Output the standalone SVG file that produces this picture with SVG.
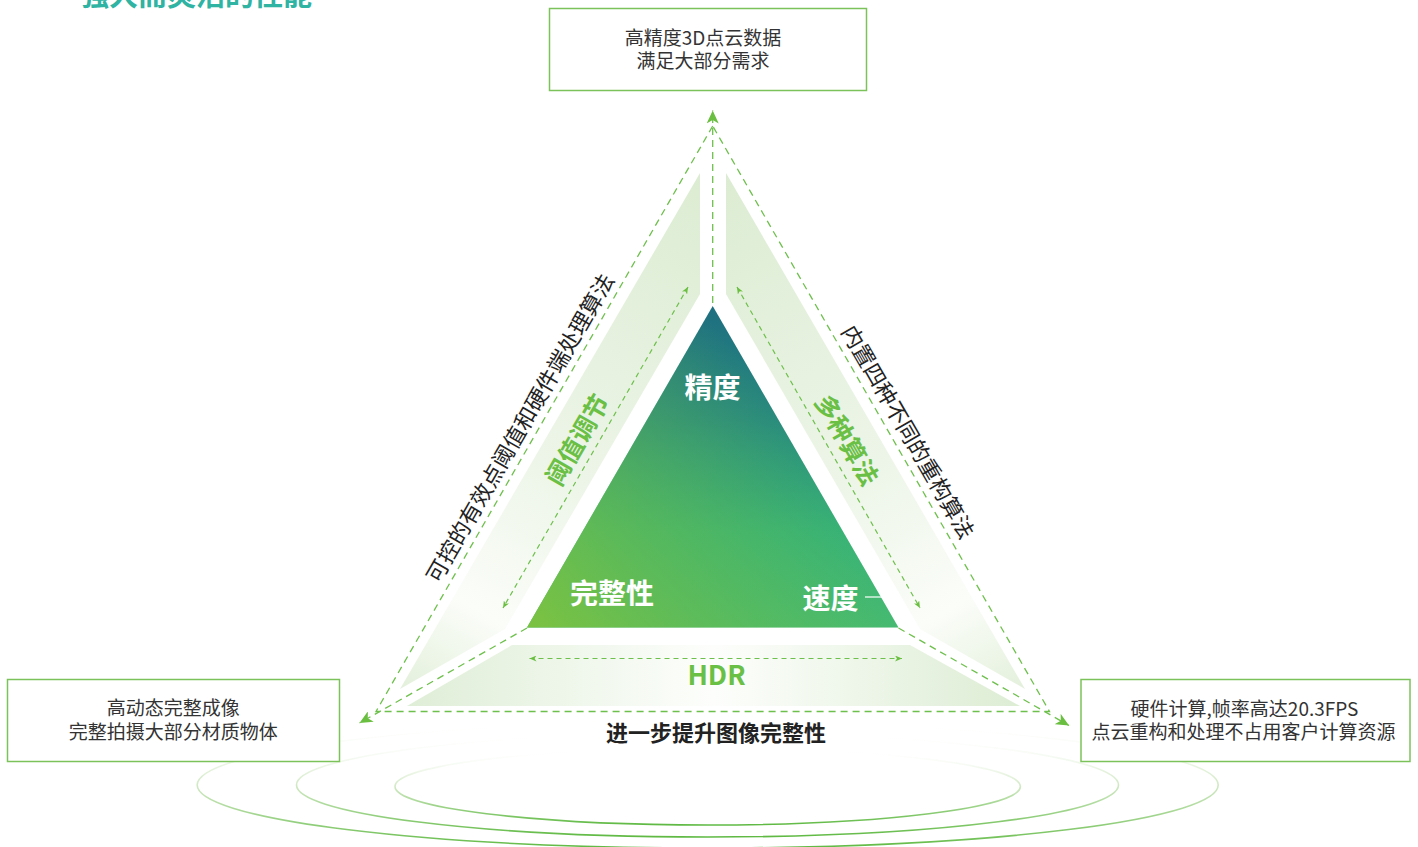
<svg xmlns="http://www.w3.org/2000/svg" width="1418" height="847" viewBox="0 0 1418 847">
<style>
.cjk{font-family:"Noto Sans CJK SC","Noto Sans",sans-serif}
.box{fill:#ffffff;stroke:#7cc25a;stroke-width:1.5}
.boxtxt{font-size:19px;fill:#333333;text-anchor:middle}
.dash{fill:none;stroke:#6ec04c;stroke-width:1.3;stroke-dasharray:7 5}
.dash2{fill:none;stroke:#6ec04c;stroke-width:1.2;stroke-dasharray:5 4}
.core{font-size:28px;font-weight:700;fill:#ffffff;text-anchor:middle}
.green{font-size:25px;font-weight:700;fill:#6abf45;text-anchor:middle}
.side{font-size:22px;fill:#222222;text-anchor:middle}
.ring{fill:none;stroke:url(#ringG);stroke-width:1.6}
</style>
<defs>
<marker id="bigArrow" markerUnits="userSpaceOnUse" markerWidth="14" markerHeight="12" viewBox="0 0 14 12" refX="13" refY="6" orient="auto">
<path d="M0,0 L13,6 L0,12 L3.5,6 Z" fill="#6abf40"/>
</marker>
<marker id="smallArrow" markerUnits="userSpaceOnUse" markerWidth="8" markerHeight="6" viewBox="0 0 8 6" refX="7" refY="3" orient="auto-start-reverse">
<path d="M0,0 L7,3 L0,6 L2,3 Z" fill="#6abf40"/>
</marker>
<linearGradient id="coreBase" gradientUnits="userSpaceOnUse" x1="712" y1="306" x2="712" y2="628">
<stop offset="0" stop-color="#1e6e80"/>
<stop offset="0.35" stop-color="#288a7e"/>
<stop offset="0.7" stop-color="#34b17a"/>
<stop offset="1" stop-color="#40b978"/>
</linearGradient>
<linearGradient id="coreLime" gradientUnits="userSpaceOnUse" x1="530" y1="628" x2="790" y2="420">
<stop offset="0" stop-color="#7cc241" stop-opacity="1"/>
<stop offset="0.4" stop-color="#72be45" stop-opacity="0.6"/>
<stop offset="1" stop-color="#6abf45" stop-opacity="0"/>
</linearGradient>
<linearGradient id="bandL" gradientUnits="userSpaceOnUse" x1="700" y1="173" x2="400" y2="689">
<stop offset="0" stop-color="#dcecd2"/>
<stop offset="0.55" stop-color="#edf5e8"/>
<stop offset="0.82" stop-color="#fbfdf9"/>
<stop offset="1" stop-color="#e3f0db"/>
</linearGradient>
<linearGradient id="bandR" gradientUnits="userSpaceOnUse" x1="726" y1="173" x2="1026" y2="689">
<stop offset="0" stop-color="#dcecd2"/>
<stop offset="0.55" stop-color="#edf5e8"/>
<stop offset="0.82" stop-color="#fbfdf9"/>
<stop offset="1" stop-color="#e3f0db"/>
</linearGradient>
<linearGradient id="bandB" gradientUnits="userSpaceOnUse" x1="407" y1="0" x2="1020" y2="0">
<stop offset="0" stop-color="#dfeed7"/>
<stop offset="0.5" stop-color="#fdfefc"/>
<stop offset="1" stop-color="#ddedd4"/>
</linearGradient>
<linearGradient id="ringG" x1="0" y1="0" x2="0" y2="1">
<stop offset="0" stop-color="#ffffff" stop-opacity="0"/>
<stop offset="0.45" stop-color="#bfe0ac" stop-opacity="0.6"/>
<stop offset="1" stop-color="#5eb942"/>
</linearGradient>
</defs>
<rect width="1418" height="847" fill="#ffffff"/>

<g id="title">
<text class="cjk" x="80" y="6" font-size="29" font-weight="700" fill="#2fb3a2">强大而灵活的性能</text>
</g>

<g id="rings">
<ellipse class="ring" cx="707.7" cy="785" rx="510.5" ry="63"/>
<ellipse class="ring" cx="707.5" cy="785" rx="411" ry="52"/>
<ellipse class="ring" cx="707.7" cy="786.5" rx="312.7" ry="38.5"/>
</g>

<g id="bands">
<polygon points="700,173 700,294 505,629 400,689" fill="url(#bandL)"/>
<polygon points="726,173 726,294 920,629 1025,689" fill="url(#bandR)"/>
<polygon points="512,645 910,645 1020,706 407,706" fill="url(#bandB)"/>
</g>

<g id="core">
<polygon points="712.7,306 527,627.5 898.5,627.5" fill="url(#coreBase)"/>
<polygon points="712.7,306 527,627.5 898.5,627.5" fill="url(#coreLime)"/>
<text class="cjk core" x="712.5" y="398">精度</text>
<text class="cjk core" x="612" y="604">完整性</text>
<text class="cjk core" x="830.5" y="609">速度</text>
<line x1="865" y1="597" x2="882" y2="597" stroke="#ffffff" stroke-width="1.2"/>
</g>

<g id="connectors">
<path class="dash" d="M712.7,126 L376,711.5 L1049.5,711.5 Z"/>
<path class="dash" d="M712.7,303 L712.7,110.5" marker-end="url(#bigArrow)"/>
<path class="dash" d="M527,628 L359.5,723" marker-end="url(#bigArrow)"/>
<path class="dash" d="M898.5,628 L1069,725.5" marker-end="url(#bigArrow)"/>
<path class="dash2" d="M688,287 L503,608" marker-start="url(#smallArrow)" marker-end="url(#smallArrow)"/>
<path class="dash2" d="M737,287 L920,608" marker-start="url(#smallArrow)" marker-end="url(#smallArrow)"/>
<path class="dash2" d="M529.5,658.5 L902,658.5" marker-start="url(#smallArrow)" marker-end="url(#smallArrow)"/>
</g>

<g id="edge-labels">
<text class="cjk green" transform="translate(577.5,440) rotate(-60)" y="9">阈值调节</text>
<text class="cjk green" transform="translate(846.7,440) rotate(60)" y="9">多种算法</text>
<text class="cjk side" transform="translate(520,428) rotate(-60)" y="8">可控的有效点阈值和硬件端处理算法</text>
<text class="cjk side" transform="translate(908,432) rotate(60)" y="8">内置四种不同的重构算法</text>
<text class="cjk" x="716.5" y="685" font-size="27" font-weight="700" fill="#6abf45" text-anchor="middle">HDR</text>
<text class="cjk" x="716" y="741" font-size="22" font-weight="700" fill="#222222" text-anchor="middle">进一步提升图像完整性</text>
</g>

<g id="node-top">
<rect class="box" x="549.5" y="8.5" width="317" height="82"/>
<text class="cjk boxtxt" x="703" y="45">高精度3D点云数据</text>
<text class="cjk boxtxt" x="703" y="68">满足大部分需求</text>
</g>

<g id="node-left">
<rect class="box" x="7.5" y="679.5" width="332" height="82"/>
<text class="cjk boxtxt" x="173.3" y="715">高动态完整成像</text>
<text class="cjk boxtxt" x="173.3" y="738.5">完整拍摄大部分材质物体</text>
</g>

<g id="node-right">
<rect class="box" x="1081" y="679.5" width="329" height="82"/>
<text class="cjk boxtxt" x="1244.5" y="715.5">硬件计算,帧率高达20.3FPS</text>
<text class="cjk boxtxt" x="1243.5" y="738.5">点云重构和处理不占用客户计算资源</text>
</g>
</svg>
